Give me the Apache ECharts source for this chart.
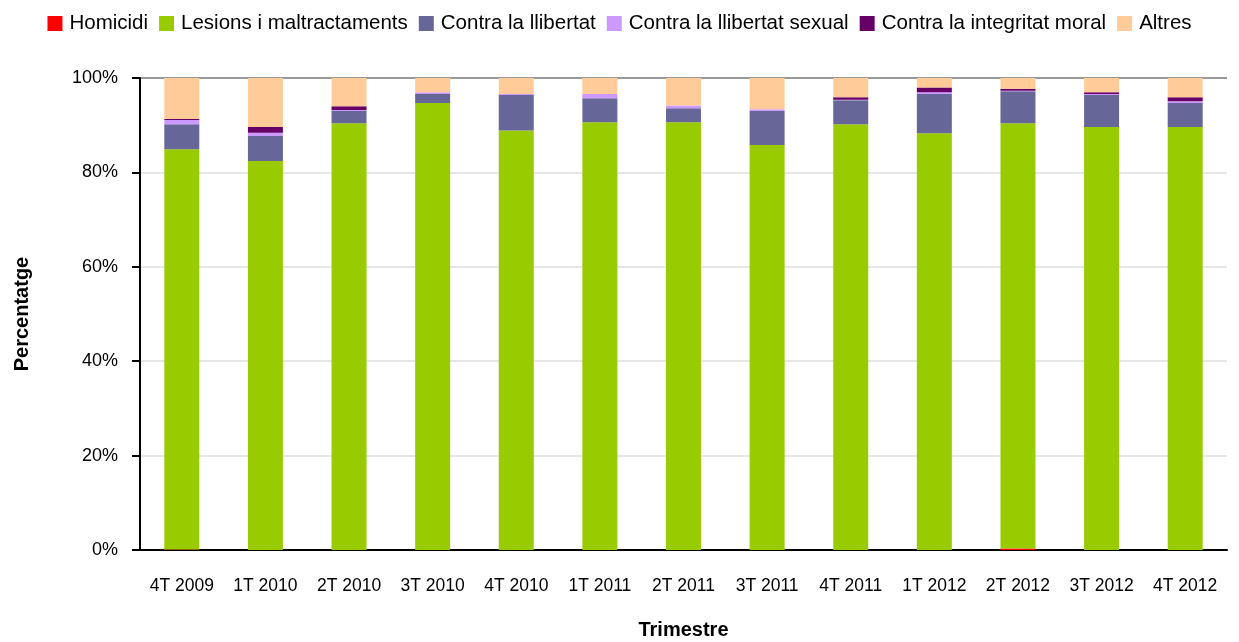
<!DOCTYPE html>
<html>
<head>
<meta charset="utf-8">
<script src="https://cdn.jsdelivr.net/npm/echarts@6/dist/echarts.min.js"></script>
<style>
  html, body { margin: 0; padding: 0; background: #fff; }
  #chart { width: 1239px; height: 642px; }
</style>
</head>
<body>
<div id="chart"></div>
<script>
const quarters = ['4T 2009', '1T 2010', '2T 2010', '3T 2010', '4T 2010', '1T 2011', '2T 2011',
  '3T 2011', '4T 2011', '1T 2012', '2T 2012', '3T 2012', '4T 2012']

// percentages
const homicidi = [0.1, 0, 0, 0, 0, 0, 0, 0, 0, 0, 0.3, 0, 0]
const lesions = [84.8, 82.4, 90.4, 94.7, 88.9, 90.6, 90.6, 85.8, 90.2, 88.3, 90.1, 89.6, 89.6]
const llibertat = [5.3, 5.3, 2.6, 1.9, 7.5, 5.1, 3.0, 7.2, 5.1, 8.3, 6.8, 6.8, 5.1]
const sexual = [0.9, 0.7, 0.2, 0.4, 0.2, 0.9, 0.6, 0.4, 0.1, 0.4, 0.1, 0.2, 0.4]
const moral = [0.2, 1.2, 0.8, 0, 0, 0, 0, 0, 0.5, 1.0, 0.4, 0.4, 0.8]
const altres = [8.7, 10.4, 6.0, 3.0, 3.4, 3.4, 5.8, 6.6, 4.1, 2.0, 2.4, 3.0, 4.1]

const yTicks = [0, 20, 40, 60, 80, 100]

const seriesDefs = [
  { name: 'Homicidi', data: homicidi, color: '#ff0000' },
  { name: 'Lesions i maltractaments', data: lesions, color: '#99cc00' },
  { name: 'Contra la llibertat', data: llibertat, color: '#666699' },
  { name: 'Contra la llibertat sexual', data: sexual, color: '#cc99ff' },
  { name: 'Contra la integritat moral', data: moral, color: '#660066' },
  { name: 'Altres', data: altres, color: '#ffcc99' },
]

const font = 'Liberation Sans'
const chart = echarts.init(document.getElementById('chart'))

chart.setOption({
  animation: false,
  textStyle: { fontFamily: font },
  legend: {
    top: 8,
    left: 'center',
    itemWidth: 15,
    itemHeight: 15,
    itemGap: 11,
    icon: 'rect',
    textStyle: { fontFamily: font, fontSize: 20.5, color: '#000', padding: [0, 0, 0, 2] },
    data: seriesDefs.map((s) => s.name),
  },
  grid: { left: 140, right: 12, top: 78, bottom: 92, outerBoundsMode: 'none' },
  xAxis: {
    type: 'category',
    data: quarters,
    name: 'Trimestre',
    nameLocation: 'middle',
    nameGap: 70,
    nameTextStyle: { fontWeight: 'bold', fontSize: 20, color: '#000', fontFamily: font },
    axisLine: { lineStyle: { color: '#000', width: 2 } },
    axisTick: { lineStyle: { color: '#000', width: 2 }, length: 8 },
    axisLabel: { color: '#000', fontSize: 17.5, margin: 27, fontFamily: font },
  },
  yAxis: {
    type: 'value',
    min: 0,
    max: 100,
    interval: 20,
    name: 'Percentatge',
    nameLocation: 'middle',
    nameGap: 108,
    nameTextStyle: { fontWeight: 'bold', fontSize: 20, color: '#000', fontFamily: font },
    axisLine: { show: true, lineStyle: { color: '#000', width: 2 } },
    axisTick: { show: true, lineStyle: { color: '#000', width: 2 }, length: 8 },
    axisLabel: {
      color: '#000',
      fontSize: 18,
      margin: 22,
      fontFamily: font,
      formatter: (v) => (yTicks.includes(v) ? v + '%' : ''),
    },
    splitLine: {
      lineStyle: { color: ['#e6e6e6', '#e6e6e6', '#e6e6e6', '#e6e6e6', '#e6e6e6', '#999'], width: 2 },
    },
  },
  series: seriesDefs.map((s) => ({
    name: s.name,
    type: 'bar',
    stack: 'total',
    barWidth: 35,
    data: s.data,
    itemStyle: { color: s.color },
  })),
})
</script>
</body>
</html>
